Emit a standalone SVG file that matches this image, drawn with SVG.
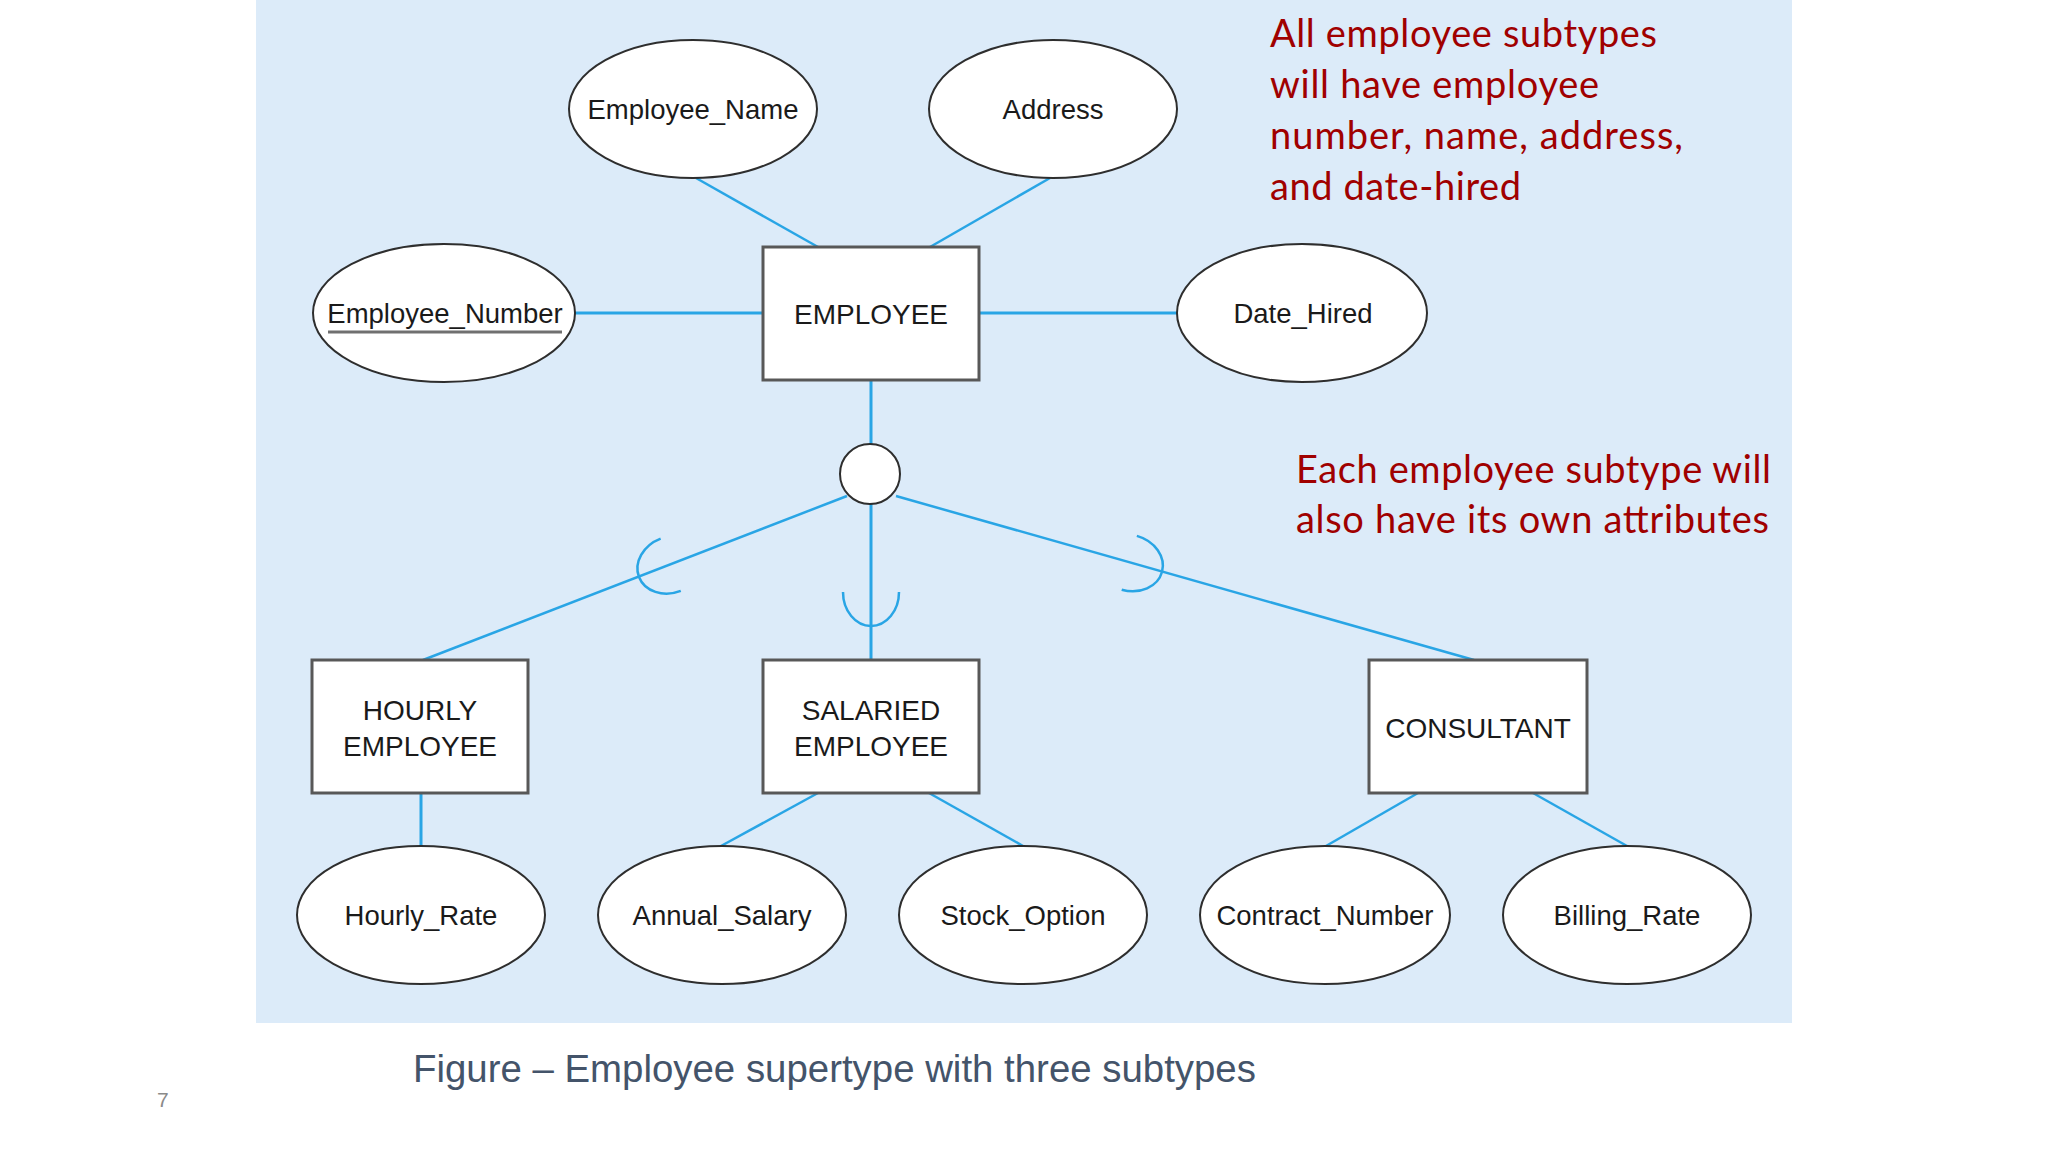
<svg xmlns="http://www.w3.org/2000/svg" width="2048" height="1152" viewBox="0 0 2048 1152">
  <style>
    .attr { fill: #ffffff; stroke: #2e2e2e; stroke-width: 2; }
    .ent { fill: #ffffff; stroke: #585858; stroke-width: 3; }
    .lbl { font-family: "Liberation Sans", Arial, sans-serif; font-size: 27.5px; fill: #1a1a1a; text-anchor: middle; }
    .elbl { font-family: "Liberation Sans", Arial, sans-serif; font-size: 28px; fill: #1a1a1a; text-anchor: middle; }
    .conn line { stroke: #29A5E5; stroke-width: 2.5; }
    .conn line.ortho { stroke-width: 3; }
    .sub { fill: none; stroke: #29A5E5; stroke-width: 2.5; }
    .note { font-family: "Lato", "Liberation Sans", sans-serif; font-size: 38px; fill: #A00000; }
  </style>
  <defs>
    <path id="subset" class="sub" d="M -28 -34 A 28 34 0 0 0 28 -34"/>
  </defs>

  <rect x="0" y="0" width="2048" height="1152" fill="#ffffff"/>
  <rect x="256" y="0" width="1536" height="1023" fill="#DCEBF9"/>

  <g id="connectors" class="conn">
    <line x1="696" y1="178" x2="818" y2="247"/>
    <line x1="1050" y1="178" x2="930" y2="247"/>
    <line class="ortho" x1="575" y1="313" x2="763" y2="313"/>
    <line class="ortho" x1="979" y1="313" x2="1177" y2="313"/>
    <line class="ortho" x1="871" y1="380" x2="871" y2="444"/>
    <line x1="847" y1="496" x2="423" y2="660"/>
    <line class="ortho" x1="871" y1="504" x2="871" y2="660"/>
    <line x1="896" y1="496" x2="1474" y2="660"/>
    <line class="ortho" x1="421" y1="793" x2="421" y2="846"/>
    <line x1="818" y1="793" x2="721" y2="846"/>
    <line x1="929" y1="793" x2="1023" y2="846"/>
    <line x1="1418" y1="793" x2="1326" y2="846"/>
    <line x1="1533" y1="793" x2="1627" y2="846"/>
    <use href="#subset" transform="translate(639,577) rotate(68.9)"/>
    <use href="#subset" transform="translate(871,626)"/>
    <use href="#subset" transform="translate(1162,572) rotate(-74.3)"/>
  </g>

  <g id="employee-name">
    <ellipse class="attr" cx="693" cy="109" rx="124" ry="69"/>
    <text class="lbl" x="693" y="119">Employee_Name</text>
  </g>
  <g id="address">
    <ellipse class="attr" cx="1053" cy="109" rx="124" ry="69"/>
    <text class="lbl" x="1053" y="119">Address</text>
  </g>
  <g id="employee-number">
    <ellipse class="attr" cx="444" cy="313" rx="131" ry="69"/>
    <text class="lbl" x="445" y="323">Employee_Number</text>
    <line x1="328" y1="332" x2="562" y2="332" stroke="#707070" stroke-width="3"/>
  </g>
  <g id="date-hired">
    <ellipse class="attr" cx="1302" cy="313" rx="125" ry="69"/>
    <text class="lbl" x="1303" y="323">Date_Hired</text>
  </g>

  <g id="employee">
    <rect class="ent" x="763" y="247" width="216" height="133"/>
    <text class="elbl" x="871" y="324">EMPLOYEE</text>
  </g>

  <g id="subtype-circle">
    <circle cx="870" cy="474" r="30" fill="#ffffff" stroke="#2e2e2e" stroke-width="2"/>
  </g>

  <g id="hourly-employee">
    <rect class="ent" x="312" y="660" width="216" height="133"/>
    <text class="elbl" x="420" y="720">HOURLY</text>
    <text class="elbl" x="420" y="756">EMPLOYEE</text>
  </g>
  <g id="salaried-employee">
    <rect class="ent" x="763" y="660" width="216" height="133"/>
    <text class="elbl" x="871" y="720">SALARIED</text>
    <text class="elbl" x="871" y="756">EMPLOYEE</text>
  </g>
  <g id="consultant">
    <rect class="ent" x="1369" y="660" width="218" height="133"/>
    <text class="elbl" x="1478" y="738">CONSULTANT</text>
  </g>

  <g id="hourly-rate">
    <ellipse class="attr" cx="421" cy="915" rx="124" ry="69"/>
    <text class="lbl" x="421" y="925">Hourly_Rate</text>
  </g>
  <g id="annual-salary">
    <ellipse class="attr" cx="722" cy="915" rx="124" ry="69"/>
    <text class="lbl" x="722" y="925">Annual_Salary</text>
  </g>
  <g id="stock-option">
    <ellipse class="attr" cx="1023" cy="915" rx="124" ry="69"/>
    <text class="lbl" x="1023" y="925">Stock_Option</text>
  </g>
  <g id="contract-number">
    <ellipse class="attr" cx="1325" cy="915" rx="125" ry="69"/>
    <text class="lbl" x="1325" y="925">Contract_Number</text>
  </g>
  <g id="billing-rate">
    <ellipse class="attr" cx="1627" cy="915" rx="124" ry="69"/>
    <text class="lbl" x="1627" y="925">Billing_Rate</text>
  </g>

  <g id="note-common">
    <text class="note" x="1270" y="47" textLength="387" lengthAdjust="spacing">All employee subtypes</text>
    <text class="note" x="1270" y="98" textLength="329" lengthAdjust="spacing">will have employee</text>
    <text class="note" x="1270" y="149" textLength="413" lengthAdjust="spacing">number, name, address,</text>
    <text class="note" x="1270" y="200" textLength="251" lengthAdjust="spacing">and date-hired</text>
  </g>
  <g id="note-own">
    <text class="note" x="1296" y="483" textLength="475" lengthAdjust="spacing">Each employee subtype will</text>
    <text class="note" x="1296" y="533" textLength="473" lengthAdjust="spacing">also have its own attributes</text>
  </g>

  <text x="413" y="1082" font-family="Liberation Sans, Arial, sans-serif" font-size="38.4" fill="#44546A">Figure – Employee supertype with three subtypes</text>
  <text x="157" y="1107" font-family="Liberation Sans, Arial, sans-serif" font-size="21" fill="#8A8A8A">7</text>
</svg>
